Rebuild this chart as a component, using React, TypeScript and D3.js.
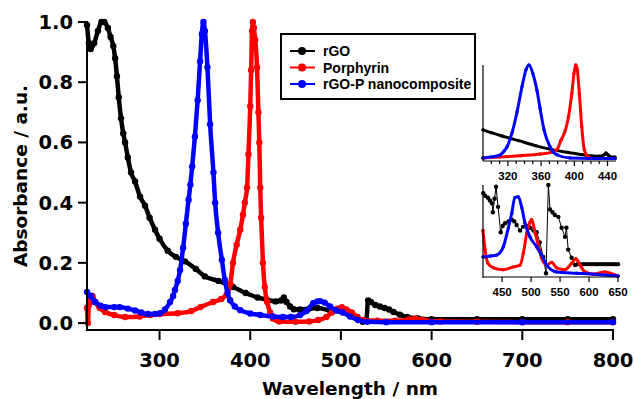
import * as d3 from 'd3';
import React from 'react';

type Pt = [number, number];

// main spectra (wavelength nm, absorbance a.u.)
const rgo: Pt[] = [
  [220, 0.99], [222, 0.93], [224, 0.91], [228, 0.93], [232, 0.97], [236, 1.0], [239, 1.0], [243, 0.98],
  [246, 0.95], [249, 0.92], [251, 0.88], [253, 0.82], [255, 0.75], [257.5, 0.68], [260, 0.63], [262, 0.6],
  [265, 0.55], [268.6, 0.5], [273, 0.47], [278.5, 0.42], [284, 0.39], [289, 0.35], [295, 0.31], [300, 0.28],
  [309, 0.24], [318, 0.22], [328, 0.205], [340, 0.18], [350, 0.155], [365, 0.14], [381, 0.12], [395, 0.1],
  [408, 0.085], [418, 0.078], [428, 0.072], [434, 0.075], [437, 0.085], [440, 0.07], [444, 0.055], [448, 0.046],
  [455, 0.045], [465, 0.048], [474, 0.05], [488, 0.042], [502, 0.037], [512, 0.03], [518, 0.02], [524, 0.004],
  [528, 0.01], [530, 0.075], [533, 0.07], [538, 0.06], [543, 0.055], [548, 0.05], [553, 0.045], [558, 0.037],
  [565, 0.028], [573, 0.02], [585, 0.015], [600, 0.013], [650, 0.013], [700, 0.013], [750, 0.013], [800, 0.013],
];

const porphyrin: Pt[] = [
  [220, 0.05], [221, 0.0], [222, 0.06], [223, 0.09], [224, 0.07], [226, 0.09], [229, 0.07], [234, 0.05],
  [240, 0.037], [250, 0.027], [262, 0.02], [278, 0.022], [290, 0.027], [300, 0.03], [320, 0.033], [335, 0.04],
  [345, 0.053], [359, 0.07], [368, 0.08], [374, 0.095], [378, 0.13], [381, 0.2], [385, 0.26], [389, 0.31],
  [392, 0.36], [394, 0.4], [396.5, 0.45], [398, 0.56], [400, 0.72], [401, 0.84], [402, 0.97], [403, 1.0],
  [404, 0.98], [405.5, 0.94], [407.5, 0.85], [409, 0.7], [410, 0.6], [411, 0.45], [412, 0.35], [414, 0.2],
  [416, 0.12], [418.7, 0.07], [422, 0.035], [425, 0.015], [432, 0.005], [450, 0.004], [465, 0.005], [475, 0.01],
  [484, 0.02], [490, 0.035], [496, 0.048], [501, 0.053], [506, 0.045], [512, 0.035], [518, 0.02], [525, 0.01],
  [540, 0.008], [560, 0.008], [575, 0.012], [582, 0.015], [590, 0.01], [610, 0.005], [650, 0.004], [700, 0.003],
  [750, 0.003], [800, 0.003],
];

const rgoP: Pt[] = [
  [220, 0.103], [224, 0.09], [229, 0.07], [235, 0.058], [240, 0.053], [250, 0.053], [256, 0.053], [265, 0.048],
  [273, 0.042], [280, 0.035], [287, 0.03], [295, 0.03], [300.5, 0.033], [306, 0.045], [311.6, 0.07], [315, 0.09],
  [317, 0.11], [320, 0.14], [322.6, 0.176], [326, 0.25], [329, 0.33], [332, 0.41], [334, 0.46], [336, 0.52],
  [339, 0.62], [342, 0.74], [344.7, 0.87], [346.6, 0.96], [348.4, 1.0], [350, 0.97], [352.8, 0.85], [355.8, 0.66],
  [359.4, 0.5], [361.3, 0.4], [364.6, 0.3], [368.7, 0.21], [372, 0.143], [375, 0.1], [377.8, 0.076], [383, 0.055],
  [389, 0.043], [400, 0.032], [411, 0.027], [425, 0.022], [436, 0.02], [445, 0.02], [455, 0.027], [462, 0.04],
  [469.5, 0.066], [474, 0.072], [477, 0.073], [482, 0.068], [488, 0.055], [495, 0.042], [502, 0.035], [510, 0.022],
  [519, 0.01], [529, 0.004], [550, 0.003], [600, 0.003], [700, 0.003], [800, 0.003],
];

// upper inset (Soret region, normalised)
const insetA_rgo: Pt[] = [
  [290, 0.31], [300, 0.28], [313, 0.245], [333, 0.195], [354, 0.14], [373, 0.1], [393, 0.07], [414, 0.04],
  [430, 0.03], [436, 0.045], [438, 0.065], [441, 0.04], [444, 0.02], [449, 0.02],
];
const insetA_porph: Pt[] = [
  [290, 0.01], [310, 0.02], [335, 0.035], [359, 0.053], [372, 0.07], [379, 0.1], [384, 0.2], [389, 0.3],
  [393, 0.45], [397, 0.7], [399.6, 0.91], [401.7, 1.0], [403.6, 0.95], [406, 0.7], [409, 0.34], [412, 0.1],
  [417, 0.02], [425, 0.005], [449, 0.005],
];
const insetA_rgoP: Pt[] = [
  [290, 0.01], [298, 0.02], [310, 0.04], [315, 0.08], [319, 0.13], [325, 0.28], [331, 0.5], [337, 0.77],
  [341.8, 0.95], [345.4, 1.0], [350, 0.91], [355, 0.73], [358.7, 0.54], [363.5, 0.31], [370.7, 0.13], [379, 0.045],
  [395, 0.01], [420, 0.005], [449, 0.005],
];

// lower inset (Q-band region, normalised)
const insetB_rgo: Pt[] = [
  [417.5, 0.91], [421, 0.88], [425.6, 0.86], [429, 0.83], [432.5, 0.8], [434, 0.7], [437, 0.85], [439.5, 0.98],
  [443, 0.76], [447.6, 0.48], [451, 0.55], [455, 0.58], [461, 0.6], [466.6, 0.62], [471, 0.6], [475, 0.56],
  [481, 0.5], [486, 0.54], [492, 0.55], [498, 0.53], [504, 0.5], [509.7, 0.48], [515, 0.37], [521, 0.21],
  [525.8, 0.03], [529.8, 1.0], [532.7, 0.73], [537, 0.7], [541, 0.67], [547, 0.65], [552.7, 0.53], [558.5, 0.43],
  [561, 0.53], [564, 0.29], [570, 0.2], [576, 0.12], [580, 0.13], [584.5, 0.13], [590, 0.13], [595, 0.13],
  [600, 0.13], [605, 0.13], [610, 0.13], [615, 0.13], [620, 0.13], [625, 0.13], [630, 0.13], [635, 0.13],
  [640, 0.13], [645, 0.13], [650, 0.13],
];
const insetB_porph: Pt[] = [
  [417, 0.5], [420.5, 0.29], [425.6, 0.14], [434.8, 0.09], [452, 0.07], [469, 0.1], [481, 0.12], [486.6, 0.25],
  [492.5, 0.47], [498, 0.59], [501, 0.62], [506.7, 0.48], [512.4, 0.34], [518, 0.2], [527, 0.12], [535.6, 0.15],
  [544, 0.09], [558.5, 0.07], [570, 0.14], [577.5, 0.19], [584.5, 0.12], [593, 0.045], [607.5, 0.02], [627.7, 0.045],
  [636, 0.03], [650, 0.0],
];
const insetB_rgoP: Pt[] = [
  [417, 0.21], [430, 0.22], [440.6, 0.23], [452, 0.32], [460.7, 0.53], [466.6, 0.69], [472, 0.86], [478, 0.87],
  [484, 0.75], [489.5, 0.58], [498, 0.43], [509.7, 0.32], [518, 0.23], [527, 0.12], [544, 0.045], [578.5, 0.03],
  [620, 0.015], [650, 0.0],
];

const xTicks = [300, 400, 500, 600, 700, 800];
const yTicks = [0, 0.2, 0.4, 0.6, 0.8, 1.0];
const insetATicks = [320, 360, 400, 440];
const insetAMinor = d3.range(300, 450, 10);
const insetBTicks = [450, 500, 550, 600, 650];
const legendLabels = ['rGO', 'Porphyrin', 'rGO-P nanocomposite'];
const colors = ['#000000', '#ff0000', '#0000ff'];

const W = 634;
const H = 399;
const tickFont = '"DejaVu Sans", sans-serif';
const textFont = '"Liberation Sans", Arial, sans-serif';

const Series = ({ data, x, y, color, lw, r, curve }: any) => {
  const line = d3.line<Pt>().x((d) => x(d[0])).y((d) => y(d[1])).curve(curve);
  return (
    <g>
      <path d={line(data) || ''} fill="none" stroke={color} strokeWidth={lw} strokeLinejoin="round" strokeLinecap="round" />
      {data.map((d: Pt, i: number) => (
        <circle key={i} cx={x(d[0])} cy={y(d[1])} r={r} fill={color} />
      ))}
    </g>
  );
};

export default function App() {
  // main axes
  const x = d3.scaleLinear().domain([220, 800]).range([87, 613]);
  const y = d3.scaleLinear().domain([-0.023, 1.0]).range([330, 22]);

  // insets
  const xa = d3.scaleLinear().domain([290, 449]).range([483, 615]);
  const ya = d3.scaleLinear().domain([0, 1]).range([159, 65]);
  const xb = d3.scaleLinear().domain([417, 650]).range([483, 618]);
  const yb = d3.scaleLinear().domain([0, 1]).range([276, 185]);

  const mainSeries = [rgo, porphyrin, rgoP];
  const insetA = [insetA_rgo, insetA_porph, insetA_rgoP];
  const insetB = [insetB_rgo, insetB_porph, insetB_rgoP];

  return (
    <svg width={W} height={H} style={{ position: 'absolute', left: 0, top: 0, background: '#fff' }}>
      {/* main curves */}
      {mainSeries.map((s, i) => (
        <Series key={i} data={s} x={x} y={y} color={colors[i]} lw={4.5} r={3.2} curve={d3.curveMonotoneX} />
      ))}

      {/* main axes */}
      <g stroke="#000" strokeWidth={2}>
        <line x1={87} x2={87} y1={21} y2={331} />
        <line x1={86} x2={614} y1={330} y2={330} />
        {xTicks.map((t) => (
          <line key={t} x1={x(t)} x2={x(t)} y1={330} y2={340} />
        ))}
        {yTicks.map((t) => (
          <line key={t} x1={78} x2={87} y1={y(t)} y2={y(t)} />
        ))}
      </g>
      <g fontFamily={tickFont} fontWeight="bold" fontSize={19.5} fill="#000">
        {xTicks.map((t) => (
          <text key={t} x={x(t)} y={367} textAnchor="middle">{t}</text>
        ))}
        {yTicks.map((t) => (
          <text key={t} x={73} y={y(t)} dy="0.36em" textAnchor="end">{t.toFixed(1)}</text>
        ))}
        <text x={350} y={395} textAnchor="middle" fontSize={18.5}>Wavelength / nm</text>
        <text transform="translate(27,176) rotate(-90)" textAnchor="middle" fontSize={18.5}>Absorbance / a.u.</text>
      </g>

      {/* legend */}
      <rect x={281} y={34} width={194} height={65} fill="#fff" stroke="#000" strokeWidth={2} />
      {legendLabels.map((l, i) => (
        <g key={l} transform={`translate(0,${51 + i * 16.5})`}>
          <line x1={290} x2={315} y1={0} y2={0} stroke={colors[i]} strokeWidth={2} />
          <circle cx={302} cy={0} r={4} fill={colors[i]} />
          <text x={323} y={0} dy="0.36em" fontFamily={textFont} fontWeight="bold" fontSize={14}>{l}</text>
        </g>
      ))}

      {/* upper inset */}
      {insetA.map((s, i) => (
        <Series key={i} data={s} x={xa} y={ya} color={colors[i]} lw={3} r={1.7} curve={d3.curveMonotoneX} />
      ))}
      <g stroke="#000" strokeWidth={1.2}>
        <line x1={483} x2={483} y1={65} y2={161} />
        <line x1={483} x2={616} y1={161} y2={161} />
        {insetAMinor.map((t) => (
          <line key={t} x1={xa(t)} x2={xa(t)} y1={161} y2={insetATicks.includes(t) ? 166 : 164} />
        ))}
      </g>
      <g fontFamily={textFont} fontWeight="bold" fontSize={11.5}>
        {insetATicks.map((t) => (
          <text key={t} x={xa(t)} y={180} textAnchor="middle">{t}</text>
        ))}
      </g>

      {/* lower inset */}
      {insetB.map((s, i) => (
        <Series key={i} data={s} x={xb} y={yb} color={colors[i]} lw={i === 0 ? 1 : 3} r={i === 0 ? 2.2 : 1.7} curve={i === 0 ? d3.curveLinear : d3.curveMonotoneX} />
      ))}
      <g stroke="#000" strokeWidth={1.2}>
        <line x1={483} x2={483} y1={185} y2={278} />
        <line x1={483} x2={619} y1={277} y2={277} />
        {insetBTicks.map((t) => (
          <line key={t} x1={xb(t)} x2={xb(t)} y1={277} y2={282} />
        ))}
      </g>
      <g fontFamily={textFont} fontWeight="bold" fontSize={11.5}>
        {insetBTicks.map((t) => (
          <text key={t} x={xb(t)} y={296} textAnchor="middle">{t}</text>
        ))}
      </g>
    </svg>
  );
}
